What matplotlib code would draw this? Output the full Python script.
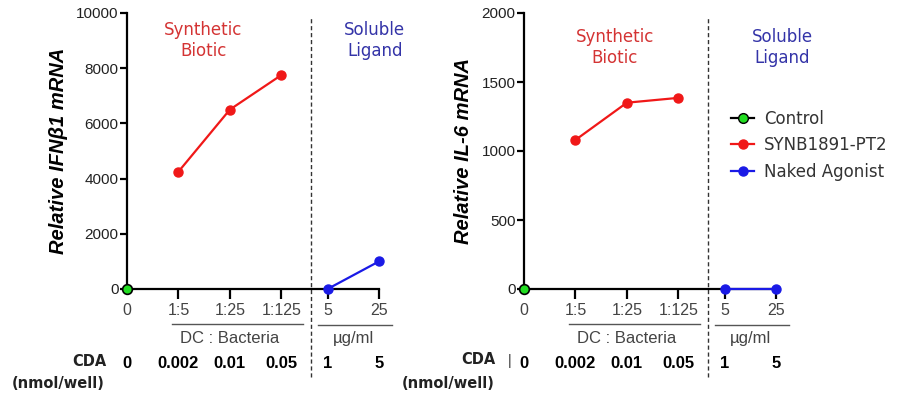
import matplotlib.pyplot as plt
from matplotlib.lines import Line2D

W, H = 903, 399

# categories on the x axis
x_labels = ['0', '1:5', '1:25', '1:125', '5', '25']
cda_labels = ['0', '0.002', '0.01', '0.05', '1', '5']

# IFNb1 panel
ifn_control = [0]
ifn_synb = [4250, 6500, 7750]
ifn_naked = [0, 1000]

# IL-6 panel
il6_control = [0]
il6_synb = [1080, 1350, 1385]
il6_naked = [0, 0]

# slot positions of the categories
xpos = [0, 1, 2, 3, 3.9, 4.9]
x_ctrl = xpos[:1]
x_synb = xpos[1:4]
x_naked = xpos[4:6]
x_split = 3.58

RED = '#f01818'
BLUE = '#1a1ae6'
GREEN = '#22dd22'
ARIAL = 'Liberation Sans'


def px(x, y):
    return x / W, 1 - y / H


fig = plt.figure(figsize=(W / 100, H / 100), dpi=100)


def panel(left, ymax, yticks, control, synb, naked, ylabel, title_y, title_x, bar=False):
    ax = fig.add_axes([left / W, 1 - 289 / H, 252 / W, 276 / H])
    ax.plot(x_synb, synb, '-o', color=RED, lw=1.6, ms=6.5, clip_on=False, zorder=3)
    ax.plot(x_naked, naked, '-o', color=BLUE, lw=1.6, ms=6.5, clip_on=False, zorder=3)
    ax.plot(x_ctrl, control, '-o', color='black', mfc=GREEN, mec='black', mew=1.2,
            ms=7, clip_on=False, zorder=4)
    ax.set_xlim(0, 4.9)
    ax.set_ylim(0, ymax)
    ax.set_yticks(yticks)
    ax.set_yticklabels([str(t) for t in yticks], fontsize=11, family=ARIAL, color='#222222')
    ax.set_xticks(xpos)
    ax.set_xticklabels(x_labels, fontsize=11.5, family=ARIAL, color='#444444')
    ax.xaxis.get_major_ticks()[0].tick1line.set_visible(False)
    for s in ['top', 'right']:
        ax.spines[s].set_visible(False)
    for s in ['left', 'bottom']:
        ax.spines[s].set_linewidth(1.6)
    ax.tick_params(axis='y', length=5, width=1.6, pad=1)
    ax.tick_params(axis='x', length=7, width=1.6, pad=3)
    ax.set_ylabel(ylabel, fontsize=14.5, fontweight='bold', style='italic',
                  family=ARIAL, labelpad=6)
    ax.patch.set_alpha(0)

    # dashed separator
    ax.axvline(x_split, ymin=-0.318, ymax=0.982, color='#333333', lw=1,
               ls=(0, (3, 2)), clip_on=False)

    tr = ax.get_xaxis_transform()
    # group underlines
    ax.plot([0.88, 3.42], [-0.127, -0.127], color='#555555', lw=1, transform=tr, clip_on=False)
    ax.plot([3.72, 5.15], [-0.132, -0.132], color='#555555', lw=1, transform=tr, clip_on=False)
    ax.text(2.0, -0.178, 'DC : Bacteria', transform=tr, ha='center', va='center',
            fontsize=12, family=ARIAL, color='#444444')
    ax.text(4.4, -0.178, 'µg/ml', transform=tr, ha='center', va='center',
            fontsize=12, family=ARIAL, color='#444444')

    # CDA row
    for xp, lab in zip(xpos, cda_labels):
        ax.text(xp, -0.27, lab, transform=tr, ha='center', va='center',
                fontsize=12, fontweight='bold', family=ARIAL)
    if bar:
        ax.text(-0.28, -0.262, '|', transform=tr, ha='center', va='center',
                fontsize=10, family=ARIAL, color='#333333')

    # group titles
    ax.text(title_x[0], title_y, 'Synthetic\nBiotic', transform=tr, ha='center',
            va='center', fontsize=12, color='#d43434', linespacing=1.2)
    ax.text(title_x[1], title_y, 'Soluble\nLigand', transform=tr, ha='center',
            va='center', fontsize=12, color='#3434a8', linespacing=1.2)
    return ax


ax1 = panel(127, 10000, [0, 2000, 4000, 6000, 8000, 10000],
            ifn_control, ifn_synb, ifn_naked, 'Relative IFNβ1 mRNA', 0.90, (1.48, 4.82))
ax2 = panel(524, 2000, [0, 500, 1000, 1500, 2000],
            il6_control, il6_synb, il6_naked, 'Relative IL-6 mRNA', 0.875, (1.77, 5.02),
            bar=True)

# CDA captions
for cx, cy in [(107, 362), (495, 359)]:
    fig.text(*px(cx, cy), 'CDA', ha='right', va='center', fontsize=10.5, fontweight='bold',
             color='#222222')
for cx in [58, 448]:
    fig.text(*px(cx, 383), '(nmol/well)', ha='center', va='center', fontsize=10.5,
             fontweight='bold', color='#222222')

handles = [
    Line2D([], [], color='black', marker='o', mfc=GREEN, mec='black', ms=7, lw=1.6),
    Line2D([], [], color=RED, marker='o', ms=6.5, lw=1.6),
    Line2D([], [], color=BLUE, marker='o', ms=6.5, lw=1.6),
]
fig.legend(handles, ['Control', 'SYNB1891-PT2', 'Naked Agonist'],
           loc='upper left', bbox_to_anchor=px(731, 110), frameon=False,
           fontsize=12, handlelength=1.4, handletextpad=0.6, labelspacing=0.5,
           borderaxespad=0, borderpad=0, labelcolor='#333333')

fig.savefig('out.png', dpi=100)
